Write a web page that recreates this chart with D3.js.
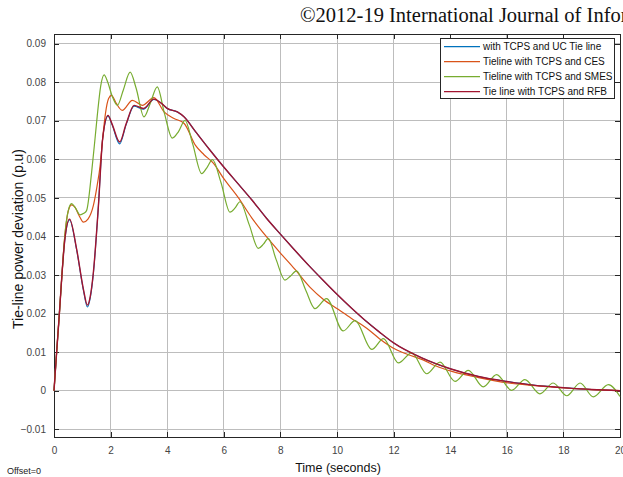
<!DOCTYPE html>
<html><head><meta charset="utf-8">
<script src="https://cdn.jsdelivr.net/npm/d3@7/dist/d3.min.js"></script>
<style>html,body{margin:0;padding:0;background:#fff;overflow:hidden}</style>
</head><body>
<svg id="c" width="623" height="477"></svg>
<script>
// ---- data (time in s, tie-line deviation in p.u.) ----
const seriesNames = ["with TCPS and UC Tie line","Tieline with TCPS and CES","Tieline with TCPS and SMES","Tie line with TCPS and RFB"];
const xTicks = [0,2,4,6,8,10,12,14,16,18,20];
const yTicks = [-0.01,0,0.01,0.02,0.03,0.04,0.05,0.06,0.07,0.08,0.09];

const ucData = [[0,0],[0.1,0.0107],[0.19,0.020],[0.28,0.030],[0.38,0.039],[0.55,0.0443],[0.8,0.0365],[1.04,0.026],[1.18,0.0217],[1.28,0.024],[1.39,0.0303],[1.57,0.048],[1.72,0.0654],[1.91,0.0712],[2.05,0.069],[2.32,0.0640],[2.55,0.069],[2.83,0.0738],[3.16,0.0730],[3.53,0.0755],[3.8,0.0745],[4.0,0.0732],[4.36,0.0723],[4.6,0.071],[5.0,0.0672],[5.5,0.0625],[6.0,0.058],[6.5,0.0537],[7.0,0.0494],[7.5,0.0448],[8.0,0.0406],[8.5,0.0365],[9.0,0.0325],[9.5,0.0287],[10.0,0.025],[10.5,0.0215],[11.0,0.0182],[11.5,0.0152],[12.0,0.0124],[13.0,0.0085],[14.0,0.0057],[15.0,0.0037],[16.0,0.0024],[17.0,0.0014],[18.0,0.0008],[19.0,0.0003],[20.0,0.0]];

const cesData = [[0,0],[0.1,0.0107],[0.19,0.020],[0.28,0.030],[0.38,0.040],[0.5,0.0465],[0.62,0.0482],[0.74,0.0476],[0.88,0.0455],[1.04,0.0437],[1.2,0.0445],[1.39,0.048],[1.52,0.053],[1.63,0.0584],[1.72,0.0654],[1.82,0.072],[1.93,0.0758],[2.03,0.0766],[2.2,0.0745],[2.41,0.0727],[2.77,0.0753],[3.12,0.0740],[3.53,0.0760],[3.89,0.0723],[4.24,0.0706],[4.6,0.0693],[5.0,0.0636],[5.3,0.0612],[5.63,0.0590],[6.0,0.0550],[6.5,0.0502],[7.0,0.0447],[7.5,0.0400],[8.0,0.0357],[8.5,0.0316],[9.05,0.0268],[9.5,0.0238],[10.04,0.0211],[10.5,0.0188],[11.05,0.0162],[11.5,0.0135],[12.05,0.0108],[12.5,0.0094],[13.04,0.0080],[13.5,0.0064],[14.06,0.0050],[15.0,0.0034],[16.05,0.0020],[17.0,0.0013],[18.0,0.0007],[19.0,0.0003],[20.0,0.0]];

const smesData = [[0,0],[0.1,0.0107],[0.19,0.020],[0.28,0.030],[0.38,0.040],[0.5,0.0466],[0.62,0.0485],[0.75,0.0475],[0.92,0.0456],[1.05,0.046],[1.15,0.0467],[1.33,0.0567],[1.45,0.0654],[1.53,0.0714],[1.65,0.079],[1.77,0.0819],[1.9,0.0800],[2.05,0.0765],[2.24,0.0740],[2.45,0.0780],[2.69,0.0826],[2.9,0.0785],[3.18,0.0710],[3.4,0.0745],[3.65,0.0788],[3.9,0.0720],[4.18,0.0655],[4.4,0.0672],[4.63,0.0701],[4.9,0.0640],[5.22,0.0563],[5.4,0.0578],[5.6,0.0599],[5.9,0.0540],[6.22,0.0463],[6.4,0.0474],[6.57,0.0490],[6.9,0.0430],[7.22,0.0369],[7.4,0.0380],[7.57,0.0395],[7.85,0.0340],[8.16,0.0287],[8.35,0.0297],[8.57,0.0311],[8.9,0.0260],[9.22,0.0213],[9.63,0.0239],[10.22,0.0155],[10.64,0.0182],[11.23,0.0107],[11.64,0.0135],[12.17,0.0072],[12.64,0.0098],[13.17,0.0044],[13.64,0.0074],[14.17,0.0024],[14.64,0.0053],[15.17,0.0010],[15.64,0.0042],[16.17,0.0001],[16.64,0.0029],[17.17,-0.0008],[17.64,0.0020],[18.12,-0.0013],[18.59,0.0020],[19.06,-0.0016],[19.59,0.0016],[20.0,-0.0015]];

const rfbData = [[0,0],[0.1,0.0107],[0.19,0.020],[0.28,0.030],[0.38,0.039],[0.55,0.0445],[0.8,0.0367],[1.04,0.0263],[1.18,0.0222],[1.28,0.0244],[1.39,0.0306],[1.57,0.048],[1.72,0.0654],[1.91,0.0714],[2.05,0.0692],[2.32,0.0645],[2.55,0.0692],[2.83,0.0740],[3.16,0.0732],[3.53,0.0756],[3.8,0.0745],[4.0,0.0732],[4.36,0.0723],[4.6,0.0710],[5.0,0.0672],[5.5,0.0625],[6.0,0.0580],[6.5,0.0537],[7.0,0.0494],[7.5,0.0448],[8.0,0.0406],[8.5,0.0365],[9.0,0.0325],[9.5,0.0287],[10.0,0.0250],[10.5,0.0215],[11.0,0.0182],[11.5,0.0152],[12.0,0.0124],[13.0,0.0085],[14.0,0.0057],[15.0,0.0037],[16.0,0.0024],[17.0,0.0014],[18.0,0.0008],[19.0,0.0003],[20.0,0.0]];

const seriesColors = ["#0072BD","#D95319","#77AC30","#A2142F"];

// ---- drawing ----
const svg = d3.select("#c");
const L = 54, R = 620, T = 34, B = 437;
const x = d3.scaleLinear().domain([0,20]).range([L,R]);
const y = d3.scaleLinear().domain([-0.012,0.0925]).range([B,T]);
const axisCol = "#262626";

svg.append("text").attr("x",300).attr("y",22)
  .attr("font-family","'Liberation Serif','Times New Roman',serif").attr("font-size",20.5)
  .attr("fill","#111").text("©2012-19 International Journal of Infor");

svg.append("rect").attr("x",L).attr("y",T).attr("width",R-L).attr("height",B-T).attr("fill","#fff");

// grid
const g = svg.append("g");
g.selectAll(".gx").data(xTicks).join("line")
  .attr("x1",d=>x(d)).attr("x2",d=>x(d)).attr("y1",T).attr("y2",B)
  .attr("stroke","#bdbdbd").attr("stroke-width",1).attr("shape-rendering","crispEdges");
g.selectAll(".gy").data(yTicks).join("line")
  .attr("x1",L).attr("x2",R).attr("y1",d=>y(d)).attr("y2",d=>y(d))
  .attr("stroke","#bdbdbd").attr("stroke-width",1).attr("shape-rendering","crispEdges");

// axes with inward ticks
const fmtY = d => d===0 ? "0" : d3.format(".2f")(d);
const axL = svg.append("g").attr("transform",`translate(${L},0)`)
  .call(d3.axisLeft(y).tickValues(yTicks).tickSizeInner(-5).tickSizeOuter(0).tickPadding(8).tickFormat(fmtY));
const axB = svg.append("g").attr("transform",`translate(0,${B})`)
  .call(d3.axisBottom(x).tickValues(xTicks).tickSizeInner(-5).tickSizeOuter(0).tickPadding(10).tickFormat(d3.format("d")));
const axT = svg.append("g").attr("transform",`translate(0,${T})`)
  .call(d3.axisTop(x).tickValues(xTicks).tickSizeInner(-5).tickSizeOuter(0).tickFormat(""));
const axR = svg.append("g").attr("transform",`translate(${R},0)`)
  .call(d3.axisRight(y).tickValues(yTicks).tickSizeInner(-5).tickSizeOuter(0).tickFormat(""));
[axL,axB,axT,axR].forEach(a=>{
  a.selectAll("path").attr("stroke",axisCol).attr("shape-rendering","crispEdges");
  a.selectAll("line").attr("stroke",axisCol).attr("shape-rendering","crispEdges");
  a.selectAll("text").attr("fill","#444").attr("font-family","Arial,'Liberation Sans',sans-serif").attr("font-size",10);
});

// lines
const line = d3.line().x(d=>x(d[0])).y(d=>y(d[1])).curve(d3.curveMonotoneX);
const allData = [ucData,cesData,smesData,rfbData];
svg.append("g").selectAll("path").data(allData).join("path")
  .attr("d",line).attr("fill","none")
  .attr("stroke",(d,i)=>seriesColors[i]).attr("stroke-width",(d,i)=>i===0?1.1:(i===3?1.4:1.2));

// labels
svg.append("text").attr("transform",`translate(23,239) rotate(-90)`)
  .attr("text-anchor","middle").attr("font-family","Arial,'Liberation Sans',sans-serif")
  .attr("font-size",14).attr("fill","#111").text("Tie-line power deviation (p.u)");
svg.append("text").attr("x",338).attr("y",472).attr("text-anchor","middle")
  .attr("font-family","Arial,'Liberation Sans',sans-serif").attr("font-size",12.5).attr("fill","#111")
  .text("Time (seconds)");
svg.append("text").attr("x",7).attr("y",474).attr("font-family","Arial,'Liberation Sans',sans-serif")
  .attr("font-size",9).attr("fill","#222").text("Offset=0");

// legend
const lg = svg.append("g");
lg.append("rect").attr("x",440.5).attr("y",38.5).attr("width",174).attr("height",60)
  .attr("fill","#fff").attr("stroke",axisCol).attr("stroke-width",1);
seriesNames.forEach((n,i)=>{
  const yy = 46.7 + i*15;
  lg.append("line").attr("x1",444).attr("x2",480).attr("y1",yy).attr("y2",yy)
    .attr("stroke",seriesColors[i]).attr("stroke-width",1.2);
  lg.append("text").attr("x",483).attr("y",yy+3.5).attr("font-family","Arial,'Liberation Sans',sans-serif")
    .attr("font-size",10).attr("fill","#111").text(n);
});
</script>
</body></html>
